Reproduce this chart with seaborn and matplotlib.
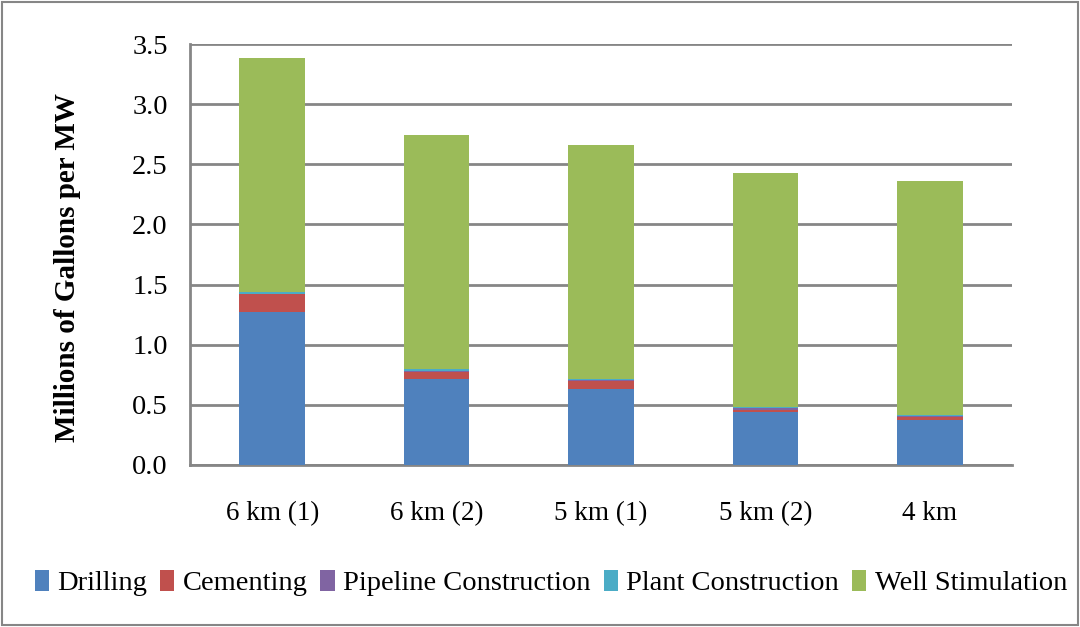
import matplotlib
matplotlib.use("Agg")
import matplotlib.pyplot as plt
import seaborn as sns
import numpy as np
import pandas as pd
from matplotlib.patches import Rectangle, Patch

categories = ["6 km (1)", "6 km (2)", "5 km (1)", "5 km (2)", "4 km"]
series_names = ["Drilling", "Cementing", "Pipeline Construction", "Plant Construction", "Well Stimulation"]
drilling = [1.27, 0.715, 0.63, 0.44, 0.37]
cementing = [0.15, 0.06, 0.07, 0.02, 0.03]
pipeline = [0.005, 0.005, 0.003, 0.01, 0.005]
plant = [0.015, 0.02, 0.015, 0.01, 0.01]
well_stim = [1.94, 1.94, 1.94, 1.95, 1.945]
colors = ["#4F81BD", "#C0504D", "#8064A2", "#4BACC6", "#9BBB59"]
yticks = [0.0, 0.5, 1.0, 1.5, 2.0, 2.5, 3.0, 3.5]

sns.set_style("white")
plt.rcParams["font.family"] = ["Liberation Serif", "DejaVu Serif"]
plt.rcParams["text.color"] = "black"
plt.rcParams["xtick.labelcolor"] = "black"
plt.rcParams["ytick.labelcolor"] = "black"
plt.rcParams["axes.labelcolor"] = "black"

fig = plt.figure(figsize=(10.8, 6.27), dpi=100)
ax = fig.add_axes([190/1080, 1-465/627, (1012-190)/1080, (465-44)/627])

series = [drilling, cementing, pipeline, plant, well_stim]
cum = np.cumsum(np.array(series), axis=0)
# draw from top-most cumulative down so lower segments overlay
for i in reversed(range(len(series))):
    df = pd.DataFrame({"cat": categories, "val": cum[i]})
    sns.barplot(data=df, x="cat", y="val", color=colors[i], width=0.4,
                saturation=1, ax=ax, zorder=3, edgecolor="none")

ax.set_ylim(0, 3.5)
ax.set_xlim(-0.5, 4.5)
ax.set_yticks(yticks)
ax.set_yticklabels([f"{v:.1f}" for v in yticks], fontsize=20.5)
ax.set_xticks(range(len(categories)))
ax.set_xticklabels(categories, fontsize=19.5)
ax.set_xticks(np.arange(-0.5, 5, 1), minor=True)
ax.tick_params(axis="x", which="major", length=0, pad=26)
ax.tick_params(axis="x", which="minor", length=8, width=2, color="#868686", direction="out")
ax.tick_params(axis="y", which="major", length=8, width=2, color="#868686", direction="out", pad=8)
ax.yaxis.grid(True, color="#868686", linewidth=2, zorder=0)
ax.set_axisbelow(True)
for s in ["top", "right"]:
    ax.spines[s].set_visible(False)
for s in ["left", "bottom"]:
    ax.spines[s].set_color("#868686")
    ax.spines[s].set_linewidth(2)
ax.set_xlabel("")
ax.set_ylabel("Millions of Gallons per MW", fontsize=21, fontweight="bold")
ax.yaxis.set_label_coords(-0.132, 0.47)

handles = [Patch(facecolor=c, edgecolor="none") for c in colors]
fig.legend(handles, series_names, loc="center", bbox_to_anchor=(0.51, 1-583/627),
           ncol=5, frameon=False, fontsize=20.5, handlelength=0.5, handleheight=0.75,
           handletextpad=0.3, columnspacing=0.45, borderaxespad=0)

fig.patches.append(Rectangle((0.002, 0.003), 0.996, 0.994, transform=fig.transFigure,
                             fill=False, edgecolor="#868686", linewidth=1.5))
fig.savefig("out.png", dpi=100)
